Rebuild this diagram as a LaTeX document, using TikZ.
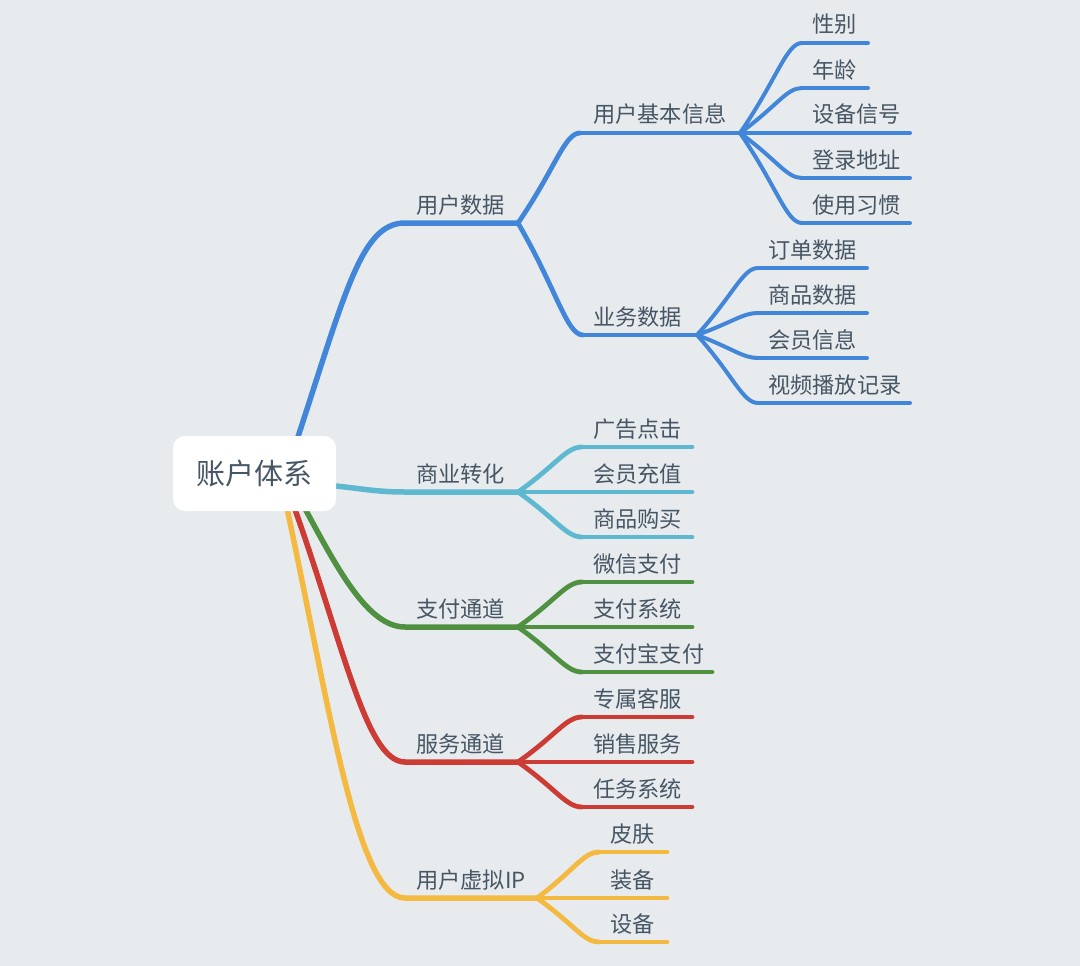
\documentclass[tikz,border=0pt]{standalone}
\usepackage{fontspec}
\newfontfamily\cjk{Noto Sans CJK SC}
\usetikzlibrary{calc}
\definecolor{bg}{HTML}{E8EBEE}
\definecolor{txt}{HTML}{475664}
\definecolor{cblue}{HTML}{4186D9}
\definecolor{cteal}{HTML}{5DB8D0}
\definecolor{cgreen}{HTML}{4F9141}
\definecolor{cred}{HTML}{CC3B34}
\definecolor{cyellow}{HTML}{F3B940}
\tikzset{
  lbl/.style={font=\cjk\fontsize{22.2}{25}\selectfont, text=txt, inner sep=0pt, anchor=base west},
  lone/.style={line cap=round, line join=round, line width=5.5pt},
  ltwo/.style={line cap=round, line join=round, line width=4.8pt},
  lthree/.style={line cap=round, line join=round, line width=4pt},
  rootbox/.style={fill=white, rounded corners=12pt, minimum width=163pt, minimum height=75pt, inner sep=0pt, font=\cjk\fontsize{29}{32}\selectfont, text=txt}
}
% curve from a fork to the start of a horizontal line
\newcommand\mmlink[3]{\draw[#1] let \p1=(#2), \p2=(#3) in (\p1) .. controls ($(\p1)!0.6!(\p2)$) and ({\x2-0.25*(\x2-\x1)},\y2) .. (\p2);}
% #1 name, #2 fork, #3 start x, #4 line y, #5 end x, #6 text x, #7 style, #8 text
\newcommand\mmleaf[8]{%
  \coordinate (#1s) at (#3,#4);
  \coordinate (#1e) at (#5,#4);
  \mmlink{#7}{#2}{#1s}
  \draw[#7] (#1s) -- (#1e);
  \node[lbl] (#1) at (#6,{#4-10}) {#8};
}
\begin{document}
\begin{tikzpicture}[x=1pt,y=-1pt]
\fill[bg] (0,0) rectangle (1080,966);
\useasboundingbox (0,0) rectangle (1080,966);

% root branch start points (hidden under the root box)
\coordinate (r1) at (292,455);
\coordinate (r2) at (300,484);
\coordinate (r3) at (295,490);
\coordinate (r4) at (288,490);
\coordinate (r5) at (283,490);

% level 1 line ends
\coordinate (uds) at (405,223); \coordinate (ude) at (518,223);
\coordinate (sys) at (405,492); \coordinate (sye) at (518,492);
\coordinate (zfs) at (405,627); \coordinate (zfe) at (518,627);
\coordinate (fws) at (405,762); \coordinate (fwe) at (518,762);
\coordinate (xns) at (405,898); \coordinate (xne) at (537,898);

\draw[lone, cblue] (r1) .. controls (345,295) and (360,223) .. (uds) -- (ude);
\draw[lone, cteal] (r2) .. controls (350,485) and (365,492) .. (sys) -- (sye);
\draw[lone, cgreen] (r3) .. controls (333,560) and (365,627) .. (zfs) -- (zfe);
\draw[lone, cred] (r4) .. controls (343,640) and (365,762) .. (fws) -- (fwe);
\draw[lone, cyellow] (r5) .. controls (327,690) and (355,898) .. (xns) -- (xne);

\node[lbl] (ud) at (416,213) {用户数据};
\node[lbl] (sy) at (416,482) {商业转化};
\node[lbl] (zf) at (416,617) {支付通道};
\node[lbl] (fw) at (416,752) {服务通道};
\node[lbl] (xn) at (416,888) {用户虚拟IP};

% level 2 under 用户数据
\mmleaf{jb}{ude}{580}{133}{740}{593}{ltwo, cblue}{用户基本信息}
\mmleaf{yw}{ude}{583}{335}{697}{593}{ltwo, cblue}{业务数据}

% leaves of 用户基本信息
\mmleaf{a1}{jbe}{802}{43}{868}{812}{lthree, cblue}{性别}
\mmleaf{a2}{jbe}{802}{88}{868}{812}{lthree, cblue}{年龄}
\mmleaf{a3}{jbe}{802}{133}{910}{812}{lthree, cblue}{设备信号}
\mmleaf{a4}{jbe}{802}{178}{910}{812}{lthree, cblue}{登录地址}
\mmleaf{a5}{jbe}{802}{223}{910}{812}{lthree, cblue}{使用习惯}

% leaves of 业务数据
\mmleaf{b1}{ywe}{758}{268}{867}{768}{lthree, cblue}{订单数据}
\mmleaf{b2}{ywe}{758}{313}{867}{768}{lthree, cblue}{商品数据}
\mmleaf{b3}{ywe}{758}{358}{867}{768}{lthree, cblue}{会员信息}
\mmleaf{b4}{ywe}{758}{403}{910}{768}{lthree, cblue}{视频播放记录}

% leaves of 商业转化
\mmleaf{c1}{sye}{582}{447}{692}{593}{ltwo, cteal}{广告点击}
\mmleaf{c2}{sye}{582}{492}{692}{593}{ltwo, cteal}{会员充值}
\mmleaf{c3}{sye}{582}{537}{692}{593}{ltwo, cteal}{商品购买}

% leaves of 支付通道
\mmleaf{d1}{zfe}{582}{582}{692}{593}{ltwo, cgreen}{微信支付}
\mmleaf{d2}{zfe}{582}{627}{692}{593}{ltwo, cgreen}{支付系统}
\mmleaf{d3}{zfe}{582}{672}{712}{593}{ltwo, cgreen}{支付宝支付}

% leaves of 服务通道
\mmleaf{e1}{fwe}{582}{717}{692}{593}{ltwo, cred}{专属客服}
\mmleaf{e2}{fwe}{582}{762}{692}{593}{ltwo, cred}{销售服务}
\mmleaf{e3}{fwe}{582}{807}{692}{593}{ltwo, cred}{任务系统}

% leaves of 用户虚拟IP
\mmleaf{f1}{xne}{599}{852}{667}{610}{ltwo, cyellow}{皮肤}
\mmleaf{f2}{xne}{599}{898}{667}{610}{ltwo, cyellow}{装备}
\mmleaf{f3}{xne}{599}{942}{667}{610}{ltwo, cyellow}{设备}

% root on top
\node[rootbox] (root) at (254.5,473.5) {账户体系};
\end{tikzpicture}
\end{document}
